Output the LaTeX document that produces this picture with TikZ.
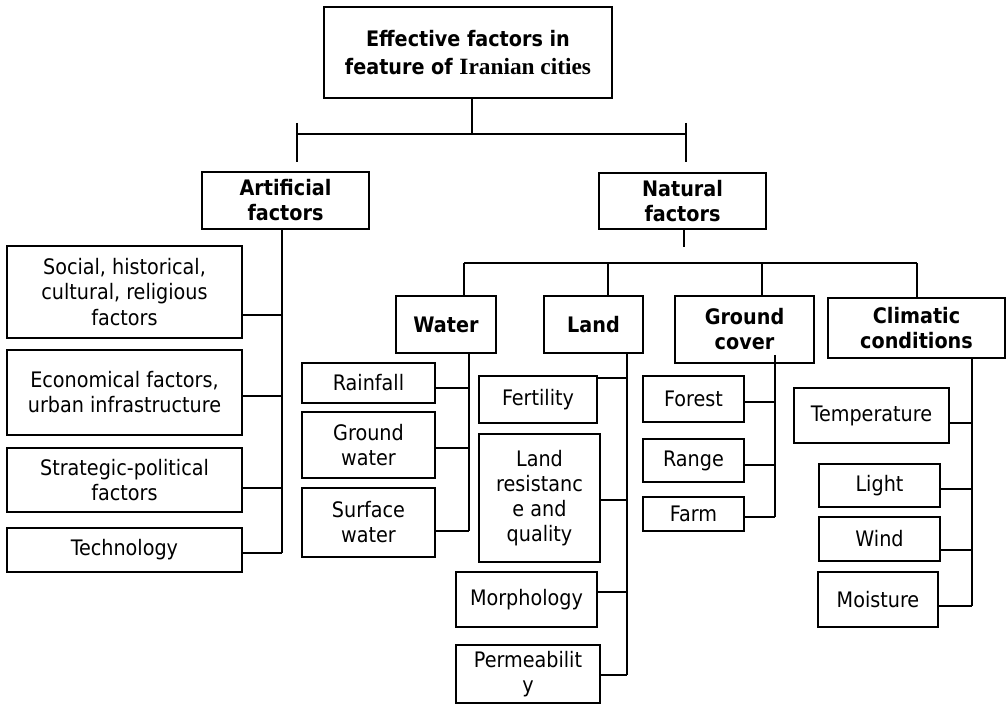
\documentclass[tikz,border=0pt]{standalone}
\usepackage{fontspec}
\setmainfont{DejaVu Sans Condensed}
\newfontfamily\serifb{Liberation Serif}
\begin{document}
\begin{tikzpicture}[x=0.75pt,y=-0.75pt,line width=1.2pt,
  box/.style={draw,line width=1.2pt,align=center,inner sep=0pt,font=\fontsize{16}{18.8}\selectfont},
  hd/.style={box,font=\fontsize{16}{18.8}\selectfont\bfseries},
  wh/.style 2 args={minimum width=#1*0.75pt,minimum height=#2*0.75pt}]
\useasboundingbox (0,0) rectangle (1008,705);

% top level
\node[hd,wh={288}{91},font=\fontsize{16}{21.5}\selectfont\bfseries] (top) at (468,52.5) {Effective factors in\\feature of {\serifb\bfseries\fontsize{17.5}{21.5}\selectfont Iranian cities}};
\node[hd,wh={167}{57}] (art) at (285.5,200.5) {Artificial\\factors};
\node[hd,wh={167}{56}] (nat) at (682.5,201) {Natural\\factors};

% artificial children
\node[box,wh={235}{92}] (soc) at (124.5,292) {Social, historical,\\cultural, religious\\factors};
\node[box,wh={235}{85}] (eco) at (124.5,392.5) {Economical factors,\\urban infrastructure};
\node[box,wh={235}{64}] (str) at (124.5,480) {Strategic-political\\factors};
\node[box,wh={235}{44}] (tec) at (124.5,550) {Technology};

% natural children
\node[hd,wh={100}{57}] (wat) at (446,324.5) {Water};
\node[hd,wh={99}{57}] (lan) at (593.5,324.5) {Land};
\node[hd,wh={139}{67}] (gc) at (744.5,329.5) {Ground\\cover};
\node[hd,wh={177}{60}] (cli) at (916.5,328) {Climatic\\conditions};

% water
\node[box,wh={133}{40}] (rain) at (368.5,383) {Rainfall};
\node[box,wh={133}{66}] (gw) at (368.5,445) {Ground\\water};
\node[box,wh={133}{69}] (sw) at (368.5,522.5) {Surface\\water};

% land
\node[box,wh={118}{47}] (fer) at (538,399.5) {Fertility};
\node[box,wh={121}{128}] (lr) at (539.5,498) {Land\\resistanc\\e and\\quality};
\node[box,wh={141}{55}] (mor) at (526.5,599.5) {Morphology};
\node[box,wh={144}{58}] (per) at (528,674) {Permeabilit\\y};

% ground cover
\node[box,wh={101}{46}] (for) at (693.5,399) {Forest};
\node[box,wh={101}{43}] (ran) at (693.5,460.5) {Range};
\node[box,wh={101}{34}] (far) at (693.5,514) {Farm};

% climatic
\node[box,wh={155}{55}] (tem) at (871.5,415.5) {Temperature};
\node[box,wh={121}{43}] (lig) at (879.5,485.5) {Light};
\node[box,wh={121}{44}] (win) at (879.5,539) {Wind};
\node[box,wh={120}{55}] (moi) at (878,599.5) {Moisture};

% top bar
\coordinate (hL) at (297,134);
\coordinate (hR) at (686,134);
\coordinate (tL1) at (297,123); \coordinate (tL2) at (297,162);
\coordinate (tR1) at (686,123); \coordinate (tR2) at (686,162);
\draw ([xshift=3pt]top.south) -- ([xshift=3pt]top.south |- hL);
\draw (hL) -- (hR);
\draw (tL1) -- (tL2);
\draw (tR1) -- (tR2);

% artificial spine
\coordinate (aS) at (282,229);
\coordinate (aE) at (282,553);
\draw (aS) -- (aE);
\draw (soc.east |- 0,315) -- (aS |- 0,315);
\draw (eco.east |- 0,396) -- (aS |- 0,396);
\draw (str.east |- 0,488) -- (aS |- 0,488);
\draw (tec.east |- 0,553) -- (aE);

% natural bar
\coordinate (nE) at (684,247);
\draw ([xshift=1pt]nat.south) -- ([xshift=1pt]nat.south |- nE);
\coordinate (b1) at (464,263);
\coordinate (b2) at (608,263);
\coordinate (b3) at (762,263);
\coordinate (b4) at (917,263);
\draw (b1) -- (b4);
\draw (b1) -- (b1 |- wat.north);
\draw (b2) -- (b2 |- lan.north);
\draw (b3) -- (b3 |- gc.north);
\draw (b4) -- (b4 |- cli.north);

% water spine
\coordinate (wS) at (469,353);
\coordinate (wE) at (469,531);
\draw (wS) -- (wE);
\draw (rain.east |- 0,388) -- (wS |- 0,388);
\draw (gw.east |- 0,448) -- (wS |- 0,448);
\draw (sw.east |- 0,531) -- (wE);

% land spine
\coordinate (lS) at (627,353);
\coordinate (lE) at (627,675);
\draw (lS) -- (lE);
\draw (fer.east |- 0,378) -- (lS |- 0,378);
\draw (lr.east |- 0,500) -- (lS |- 0,500);
\draw (mor.east |- 0,592) -- (lS |- 0,592);
\draw (per.east |- 0,675) -- (lE);

% ground cover spine
\coordinate (gS) at (775,355);
\coordinate (gE) at (775,517);
\draw (gS) -- (gE);
\draw (for.east |- 0,402) -- (gS |- 0,402);
\draw (ran.east |- 0,465) -- (gS |- 0,465);
\draw (far.east |- 0,517) -- (gE);

% climatic spine
\coordinate (cS) at (972,358);
\coordinate (cE) at (972,606);
\draw (cS) -- (cE);
\draw (tem.east |- 0,423) -- (cS |- 0,423);
\draw (lig.east |- 0,489) -- (cS |- 0,489);
\draw (win.east |- 0,550) -- (cS |- 0,550);
\draw (moi.east |- 0,606) -- (cE);
\end{tikzpicture}
\end{document}
